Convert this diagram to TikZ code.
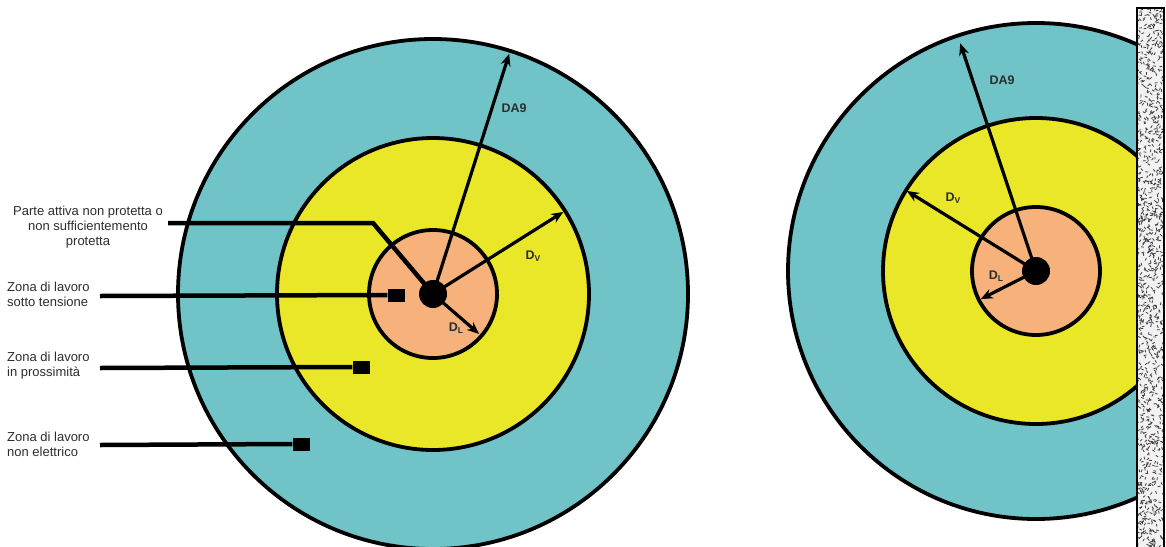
\documentclass[tikz,border=0pt]{standalone}
\usepackage{fontspec}
\setmainfont{Liberation Sans}
\usetikzlibrary{arrows.meta,calc}
\definecolor{zteal}{RGB}{112,196,200}
\definecolor{zyellow}{RGB}{234,231,40}
\definecolor{zorange}{RGB}{246,178,122}
\definecolor{ztext}{RGB}{45,45,45}
\tikzset{
  ring/.style={draw=black, line width=3.8pt},
  dotnode/.style={circle, fill=black, inner sep=0pt, minimum size=28pt},
  dimarrow/.style={line width=3.2pt, -{Stealth[length=12pt,width=10pt]}},
  leader/.style={line width=4.5pt},
  sq/.style={fill=black, inner sep=0pt, minimum width=17pt, minimum height=13pt},
  lbl/.style={font=\fontsize{13}{15}\selectfont, text=ztext, inner sep=0pt},
  dimlbl/.style={font=\fontsize{12.5}{14}\selectfont\bfseries, text=ztext, inner sep=0pt},
  speck/.style={line width=0.8pt, draw=black!75},
}
\newcommand{\dsub}[1]{D\raisebox{-2.5pt}{\fontsize{8.5}{9}\selectfont #1}}
\begin{document}
\begin{tikzpicture}[x=1pt,y=-1pt]
\useasboundingbox (0,0) rectangle (1166,546);
\fill[white] (0,0) rectangle (1166,546);
% ---------- left figure ----------
\coordinate (cL) at (433,294);
\begin{scope}
\clip (0,0) rectangle (1166,546);
\filldraw[ring, fill=zteal] (cL) circle (255);
\end{scope}
\filldraw[ring, fill=zyellow] (cL) circle (156);
\filldraw[ring, fill=zorange] (cL) circle (64);
% leaders (behind dot)
\node[lbl, align=center] (pa) at (88,227) {Parte attiva non protetta o\\non sufficientemento\\protetta};
\coordinate (pa-start) at (168,223);
\coordinate (pa-bend) at (373,223);
\node[lbl, align=left, anchor=west] (zt) at (7,294) {Zona di lavoro\\sotto tensione};
\coordinate (zt-start) at (100,296);
\node[sq] (zt-sq) at (396,295) {};
\node[lbl, align=left, anchor=west] (zp) at (7,366) {Zona di lavoro\\in prossimità};
\coordinate (zp-start) at (100,368);
\node[sq] (zp-sq) at (361,367) {};
\node[lbl, align=left, anchor=west] (zn) at (7,444) {Zona di lavoro\\non elettrico};
\coordinate (zn-start) at (100,445);
\node[sq] (zn-sq) at (301,444) {};
\node[dotnode] (dotL) at (cL) {};
\draw[leader] (pa-start) -- (pa-bend) -- (dotL.center);
\draw[leader] (zt-start) -- (zt-sq.west);
\draw[leader] (zp-start) -- (zp-sq.west);
\draw[leader] (zn-start) -- (zn-sq.west);
% dimension arrows
\coordinate (L-da9) at ($(cL)+(-72.4:252)$);
\coordinate (L-dv) at ($(cL)+(-32.2:154)$);
\coordinate (L-dl) at ($(cL)+(40.9:61)$);
\draw[dimarrow] (dotL.center) -- (L-da9);
\draw[dimarrow] (dotL.center) -- (L-dv);
\draw[dimarrow] (dotL.center) -- (L-dl);
\node[dimlbl] (lbl-L-da9) at (514,108) {DA9};
\node[dimlbl] (lbl-L-dv) at (533,256) {\dsub{V}};
\node[dimlbl] (lbl-L-dl) at (456,328) {\dsub{L}};
% ---------- right figure ----------
\coordinate (cR) at (1036,271);
\begin{scope}
\clip (700,0) rectangle (1137,546);
\filldraw[ring, fill=zteal] (cR) circle (248);
\filldraw[ring, fill=zyellow] (cR) circle (153);
\end{scope}
\filldraw[ring, fill=zorange] (cR) circle (64);
\node[dotnode] (dotR) at (cR) {};
\coordinate (R-da9) at ($(cR)+(-108.4:240)$);
\coordinate (R-dv) at ($(cR)+(-148.2:152)$);
\coordinate (R-dl) at ($(cR)+(153:62)$);
\draw[dimarrow] (dotR.center) -- (R-da9);
\draw[dimarrow] (dotR.center) -- (R-dv);
\draw[dimarrow] (dotR.center) -- (R-dl);
\node[dimlbl] (lbl-R-da9) at (1002,80) {DA9};
\node[dimlbl] (lbl-R-dv) at (953,198) {\dsub{V}};
\node[dimlbl] (lbl-R-dl) at (996,276) {\dsub{L}};
% ---------- wall ----------
\begin{scope}
\clip (1137,8) rectangle (1164,552);
\fill[black!5] (1137,8) rectangle (1164,552);
\pgfmathsetseed{7}
\foreach \i in {1,...,1100}{
  \pgfmathsetmacro{\px}{1137+27*rnd}
  \pgfmathsetmacro{\py}{8+544*rnd}
  \pgfmathsetmacro{\ang}{360*rnd}
  \draw[speck] (\px,\py) -- ++(\ang:2.8);
}
\end{scope}
\draw[line width=2.4pt] (1137,8) rectangle (1164,552);
\end{tikzpicture}
\end{document}
